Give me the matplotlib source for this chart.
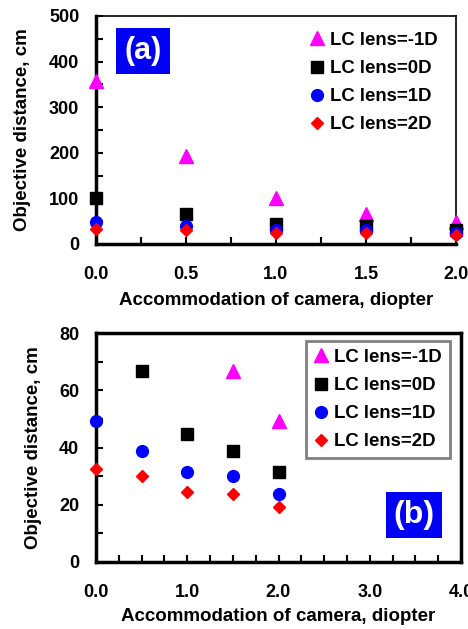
import matplotlib
matplotlib.use("Agg")
import matplotlib.pyplot as plt
from matplotlib.ticker import MultipleLocator, FormatStrFormatter
from matplotlib.patches import Rectangle

plt.rcParams['font.family'] = ['Liberation Sans', 'DejaVu Sans']
plt.rcParams['font.weight'] = 'bold'

# ---- data ----
accom = [0.0, 0.5, 1.0, 1.5, 2.0]
lens_m1 = [357, 193, 100, 66.7, 49.3]
lens_0 = [101, 66.6, 44.8, 38.8, 31.5]
lens_1 = [49.3, 38.8, 31.5, 30.0, 23.6]
lens_2 = [32.4, 29.9, 24.3, 23.6, 19.2]

# panel (b) shows only in-range points
accom_b_m1 = [1.5, 2.0]
lens_b_m1 = [66.7, 49.3]
accom_b_0 = [0.5, 1.0, 1.5, 2.0]
lens_b_0 = [66.6, 44.8, 38.8, 31.5]

labels = ['LC lens=-1D', 'LC lens=0D', 'LC lens=1D', 'LC lens=2D']
xlabel = 'Accommodation of camera, diopter'
ylabel = 'Objective distance, cm'

W, H = 468, 629
fig = plt.figure(figsize=(W / 100, H / 100), dpi=100)

def px_axes(l, r, t, b):
    return fig.add_axes([l / W, (H - b) / H, (r - l) / W, (b - t) / H])

styles = [
    dict(marker='^', color='#FF00FF', ms=9.5),
    dict(marker='s', color='black', ms=8),
    dict(marker='o', color='#0000FF', ms=8.5),
    dict(marker='D', color='#FF0000', ms=6),
]

def style_axes(ax):
    ax.tick_params(which='both', direction='in', labelsize=13, width=1.5)
    ax.tick_params(which='major', length=5)
    ax.tick_params(which='minor', length=5)
    ax.tick_params(axis='x', which='major', pad=16)
    ax.tick_params(axis='y', which='major', pad=12)
    for lab in ax.get_xticklabels() + ax.get_yticklabels():
        lab.set_fontweight('bold')

# ---------------- panel (a) ----------------
ax1 = px_axes(96, 456, 16, 244)
series_a = [lens_m1, lens_0, lens_1, lens_2]
for vals, st, lab in zip(series_a, styles, labels):
    ax1.plot(accom, vals, linestyle='none', marker=st['marker'], color=st['color'],
             ms=st['ms'], mec=st['color'], label=lab, clip_on=False, zorder=5)
ax1.set_xlim(0, 2.0)
ax1.set_ylim(0, 500)
ax1.xaxis.set_major_locator(MultipleLocator(0.5))
ax1.xaxis.set_minor_locator(MultipleLocator(0.25))
ax1.yaxis.set_major_locator(MultipleLocator(100))
ax1.yaxis.set_minor_locator(MultipleLocator(50))
ax1.xaxis.set_major_formatter(FormatStrFormatter('%.1f'))
ax1.spines['left'].set_linewidth(2.5)
ax1.spines['bottom'].set_linewidth(2.5)
ax1.spines['top'].set_linewidth(1.2)
ax1.spines['right'].set_linewidth(1.2)
style_axes(ax1)
ax1.set_xlabel(xlabel, fontsize=13.5, fontweight='bold')
ax1.set_ylabel(ylabel, fontsize=13.5, fontweight='bold', va='center')
ax1.xaxis.set_label_coords(0.5, -0.212)
ax1.yaxis.set_label_coords(-0.203, 0.5)
ax1.add_patch(Rectangle((0.0556, 0.7456), 0.15, 0.2018, transform=ax1.transAxes,
                        facecolor='#0000F5', edgecolor='none', zorder=6))
ax1.text(0.1306, 0.8465, '(a)', transform=ax1.transAxes, color='white',
         fontsize=22, fontweight='bold', ha='center', va='center', zorder=7)
leg1 = ax1.legend(loc='upper left', bbox_to_anchor=((294 - 96) / 360, 1.0),
                  frameon=False, fontsize=13.4, handlelength=0.8,
                  handletextpad=0.3, labelspacing=0.6, borderpad=0.35)
for t in leg1.get_texts():
    t.set_fontweight('bold')

# ---------------- panel (b) ----------------
ax2 = px_axes(96, 461, 333, 562)
series_b = [(accom_b_m1, lens_b_m1), (accom_b_0, lens_b_0), (accom, lens_1), (accom, lens_2)]
for (xs, vals), st, lab in zip(series_b, styles, labels):
    ax2.plot(xs, vals, linestyle='none', marker=st['marker'], color=st['color'],
             ms=st['ms'], mec=st['color'], label=lab, clip_on=False, zorder=5)
ax2.set_xlim(0, 4.0)
ax2.set_ylim(0, 80)
ax2.xaxis.set_major_locator(MultipleLocator(1.0))
ax2.xaxis.set_minor_locator(MultipleLocator(0.25))
ax2.yaxis.set_major_locator(MultipleLocator(20))
ax2.yaxis.set_minor_locator(MultipleLocator(10))
ax2.xaxis.set_major_formatter(FormatStrFormatter('%.1f'))
for s in ax2.spines.values():
    s.set_linewidth(2.5)
style_axes(ax2)
ax2.set_xlabel(xlabel, fontsize=13.5, fontweight='bold')
ax2.set_ylabel(ylabel, fontsize=13.5, fontweight='bold', va='center')
ax2.xaxis.set_label_coords(0.5, -0.203)
ax2.yaxis.set_label_coords(-0.17, 0.5)
ax2.add_patch(Rectangle((0.7945, 0.1048), 0.1534, 0.2009, transform=ax2.transAxes,
                        facecolor='#0000F5', edgecolor='none', zorder=6))
ax2.text(0.8712, 0.2052, '(b)', transform=ax2.transAxes, color='white',
         fontsize=23, fontweight='bold', ha='center', va='center', zorder=7)
leg2 = ax2.legend(loc='upper right', bbox_to_anchor=((450 - 96) / 365, (562 - 341) / 229),
                  frameon=True, fancybox=False, fontsize=13.4, handlelength=0.8,
                  handletextpad=0.3, labelspacing=0.6, borderpad=0.42,
                  borderaxespad=0.0, framealpha=1)
leg2.get_frame().set_edgecolor('#808080')
leg2.get_frame().set_linewidth(2)
for t in leg2.get_texts():
    t.set_fontweight('bold')

fig.savefig('out.png', dpi=100)
